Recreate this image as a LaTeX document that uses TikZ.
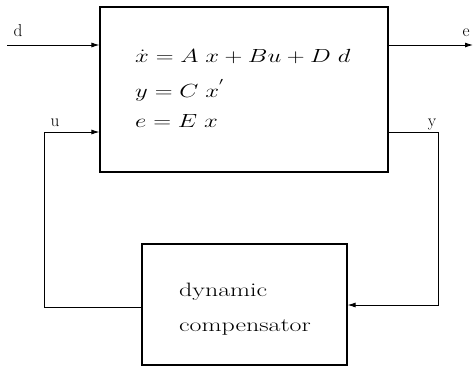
\documentclass[tikz,border=0pt]{standalone}
\usepackage{graphicx}
\usetikzlibrary{arrows.meta}
\newcommand{\wideeq}[1]{\scalebox{1.43}[1.1]{#1}}
\newcommand{\widetxt}[1]{\scalebox{1.5}[1.12]{#1}}
\begin{document}
\begin{tikzpicture}[x=1pt,y=-1pt,
  blk/.style={draw,line width=1.1pt,inner sep=0pt},
  con/.style={line width=0.9pt},
  arr/.style={con,-{Latex[length=8pt,width=5pt]}},
  lbl/.style={inner sep=0pt,anchor=base,font=\LARGE},
  eq/.style={inner sep=0pt,anchor=base west,font=\LARGE},
  txt/.style={inner sep=0pt,anchor=base west,font=\LARGE}]
\useasboundingbox (0,0) rectangle (473,368);
\node[blk,minimum width=288pt,minimum height=165pt] (plant) at (244,89.5) {};
\node[blk,minimum width=205pt,minimum height=121pt] (comp) at (244.5,304.5) {};
\node[eq] (e1) at (135,62) {\wideeq{$\dot x = A\; x + B u + D\; d$}};
\node[eq] (e2) at (135,97) {\wideeq{$y = C\; x^{'}$}};
\node[eq] (e3) at (135,127) {\wideeq{$e = E\; x$}};
\node[txt] (t1) at (179,296) {\widetxt{dynamic}};
\node[txt] (t2) at (179,331) {\widetxt{compensator}};
\coordinate (din) at (7,45);
\coordinate (eout) at (473,45);
\node[lbl] (ld) at (18,36) {d};
\node[lbl] (le) at (466,36) {e};
\node[lbl] (lu) at (55,126) {u};
\node[lbl] (ly) at (432,126) {y};
\coordinate (ul) at (44,132);
\coordinate (bl) at (44,307);
\coordinate (yr) at (438,132);
\coordinate (br) at (438,305);
\draw[arr] (din) -- (din -| plant.west);
\draw[arr] (eout -| plant.east) -- (eout);
\draw[arr] (comp.west |- bl) -- (bl) -- (ul) -- (ul -| plant.west);
\draw[arr] (yr -| plant.east) -- (yr) -- (br) -- (br -| comp.east);
\end{tikzpicture}
\end{document}
